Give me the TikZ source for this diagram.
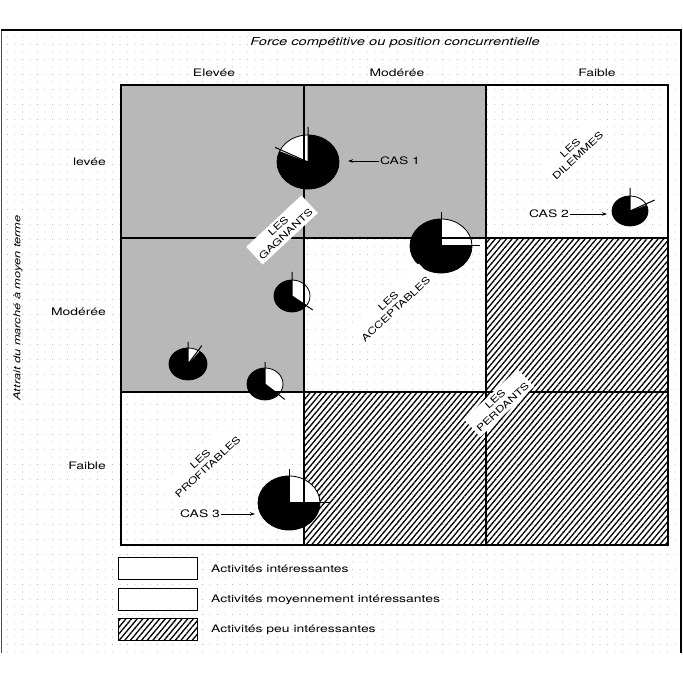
\documentclass[tikz,border=0pt]{standalone}
\usepackage{fontspec}
\setmainfont{TeX Gyre Heros}[FakeStretch=1.35]
\usetikzlibrary{patterns.meta,arrows.meta}
\newcommand\mypie[8]{%
  \fill[black] (#1,#2) ellipse[x radius=#3,y radius=#4];
  \fill[white] (#1,#2) -- ++(#5:#3 and #4) arc[start angle=#5,end angle=#6,x radius=#3,y radius=#4] -- cycle;
  \draw[line width=0.8pt] (#1,#2) ellipse[x radius=#3,y radius=#4];
  \draw[line width=1pt] (#1,#2) -- ++(#5:#7) (#1,#2) -- ++(#6:#8);
}
\begin{document}
\begin{tikzpicture}[x=1pt,y=1pt,
  lbl/.style={font=\fontsize{10.3}{11}\selectfont, inner sep=1pt},
  ttl/.style={font=\fontsize{10.9}{12}\selectfont\itshape, inner sep=1pt},
  diag/.style={font=\fontsize{9.3}{11}\selectfont, align=center, rotate=43, fill=white, inner sep=3pt},
  hatch/.style={pattern={Lines[angle=50,distance=4.3pt,line width=1.3pt]}, pattern color=black},
  stip/.style={fill=black!28},
  gridline/.style={line width=1.2pt},
  legbox/.style={draw, line width=1pt, minimum width=79pt, minimum height=22pt, inner sep=0pt},
  arr/.style={-{Stealth[length=5pt,width=3.5pt]}, line width=0.9pt},
]
\useasboundingbox (0,0) rectangle (683,682);
% background
\fill[pattern={Dots[distance=7.5pt,radius=0.45pt]}, pattern color=black!45] (1,29) rectangle (681,652);
\draw[line width=0.8pt, black!70] (1,29) -- (1,652);
\draw[line width=1.8pt] (1,652) -- (681,652) -- (681,29);
% cells
\fill[stip] (121,444) rectangle (486,597);
\fill[stip] (121,290) rectangle (304,444);
\fill[white, hatch] (486,290) rectangle (668,444);
\fill[white, hatch] (304,137) rectangle (668,290);
% pies
\mypie{308}{520}{31}{27}{90}{156}{35}{36}
\mypie{630}{471}{18}{15}{24}{90}{27}{23}
\mypie{441}{436}{31}{27}{0}{90}{39}{34}
\mypie{292}{386}{18}{16}{-34}{90}{25}{24}
\mypie{188}{318}{19}{16}{53}{90}{23}{22}
\mypie{265}{298}{18}{16}{-38}{90}{25}{22}
\mypie{289}{179}{31}{27}{0}{90}{41}{34}
% grid
\draw[gridline] (121,137) rectangle (668,597);
\draw[gridline] (304,137) -- (304,597) (486,137) -- (486,597)
  (121,290) -- (668,290) (121,444) -- (668,444);
% titles
\node[ttl] (title) at (395,639) {Force compétitive ou position concurrentielle};
\node[lbl] (c1) at (214,609) {Elevée};
\node[lbl] (c2) at (397,609) {Modérée};
\node[lbl] (c3) at (597,609) {Faible};
\node[lbl, anchor=east] (r1) at (107,520) {levée};
\node[lbl, anchor=east] (r2) at (107,370) {Modérée};
\node[lbl, anchor=east] (r3) at (107,216) {Faible};
\node[ttl, font=\fontsize{9.5}{11}\selectfont\itshape, rotate=90] (ytitle) at (18,374) {Attrait du marché à moyen terme};
% diagonal labels
\node[diag] (gagn) at (282,452) {LES\\GAGNANTS};
\node[diag] (acce) at (392,377) {LES\\ACCEPTABLES};
\node[diag] (dile) at (574,530) {LES\\DILEMMES};
\node[diag] (perd) at (499,279) {LES\\PERDANTS};
\node[diag] (prof) at (204,219) {LES\\PROFITABLES};
% cases
\node[lbl] (cas1) at (400,521) {CAS 1};
\coordinate (p1) at (348,521);
\draw[arr] (cas1) -- (p1);
\node[lbl] (cas2) at (549,468) {CAS 2};
\coordinate (p2) at (607,468);
\draw[arr] (cas2) -- (p2);
\node[lbl] (cas3) at (200,168) {CAS 3};
\coordinate (p3) at (255,168);
\draw[arr] (cas3) -- (p3);
% legend
\node[legbox, fill=white] (lb1) at (157.5,113) {};
\node[legbox, fill=white] (lb2) at (157.5,82.5) {};
\node[legbox, fill=white, hatch] (lb3) at (157.5,52) {};
\node[lbl, anchor=west] (lt1) at (210,113) {Activités intéressantes};
\node[lbl, anchor=west] (lt2) at (210,82) {Activités moyennement intéressantes};
\node[lbl, anchor=west] (lt3) at (210,52) {Activités peu intéressantes};
\end{tikzpicture}
\end{document}
